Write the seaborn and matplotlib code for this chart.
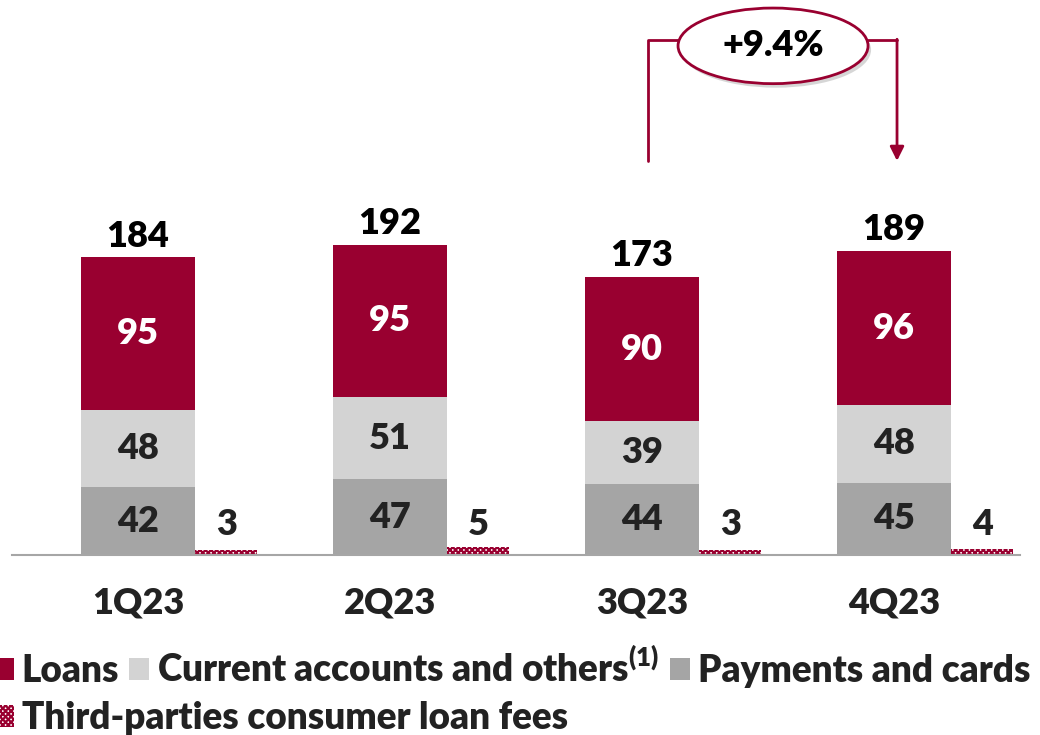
import numpy as np
import pandas as pd
import matplotlib
matplotlib.use("Agg")
import matplotlib.pyplot as plt
from matplotlib.patches import Ellipse, Patch
import seaborn as sns

# Chart values
quarters = ["1Q23", "2Q23", "3Q23", "4Q23"]
loans = [95, 95, 90, 96]
current_accounts = [48, 51, 39, 48]
payments_cards = [42, 47, 44, 45]
third_parties = [3, 5, 3, 4]
totals = [184, 192, 173, 189]
growth_label = "+9.4%"

legend_labels = ["Loans", r"Current accounts and others$^{\mathbf{(1)}}$",
                 "Payments and cards", "Third-parties consumer loan fees"]

RED = "#990030"
LIGHT = "#D3D3D3"
GREY = "#A5A5A5"
TXT = "#222222"
FS = 26
LFS = 26.6
W = "heavy"

sns.set_theme(style="white")
plt.rcParams["font.family"] = ["Lato", "DejaVu Sans"]
plt.rcParams["font.weight"] = W
plt.rcParams["mathtext.fontset"] = "custom"
plt.rcParams["mathtext.rm"] = "Lato"
plt.rcParams["mathtext.bf"] = "Lato:heavy"
plt.rcParams["hatch.linewidth"] = 1.6
plt.rcParams["hatch.color"] = RED

fig = plt.figure(figsize=(10.4, 7.35), dpi=100)
ax = fig.add_axes([12 / 1040, 1 - 555 / 735, 1008 / 1040, 555 / 735])

pos = np.arange(len(quarters), dtype=float)
df = pd.DataFrame({
    "x": pos,
    "pay": payments_cards,
    "cur": np.add(payments_cards, current_accounts),
    "tot": np.add(np.add(payments_cards, current_accounts), loans),
})
df3 = pd.DataFrame({"x": pos + 0.35, "v": third_parties})

# layered stacked bars (tallest first)
sns.barplot(data=df, x="x", y="tot", native_scale=True, color=RED, saturation=1,
            width=0.455, linewidth=0, ax=ax)
sns.barplot(data=df, x="x", y="cur", native_scale=True, color=LIGHT, saturation=1,
            width=0.455, linewidth=0, ax=ax)
sns.barplot(data=df, x="x", y="pay", native_scale=True, color=GREY, saturation=1,
            width=0.455, linewidth=0, ax=ax)
n_before = len(ax.patches)
sns.barplot(data=df3, x="x", y="v", native_scale=True, color="white", saturation=1,
            width=0.245, linewidth=0, ax=ax)
for p in ax.patches[n_before:]:
    p.set_hatch("xxxxxx")
    p.set_edgecolor(RED)
    p.set_linewidth(0)

# value labels
for i in range(len(quarters)):
    ax.text(pos[i], payments_cards[i] / 2, str(payments_cards[i]), ha="center", va="center",
            fontsize=FS, color=TXT, fontweight=W)
    ax.text(pos[i], payments_cards[i] + current_accounts[i] / 2, str(current_accounts[i]),
            ha="center", va="center", fontsize=FS, color=TXT, fontweight=W)
    ax.text(pos[i], payments_cards[i] + current_accounts[i] + loans[i] / 2, str(loans[i]),
            ha="center", va="center", fontsize=FS, color="white", fontweight=W)
    ax.text(pos[i], df["tot"][i] + 6.5, str(totals[i]), ha="center", va="baseline",
            fontsize=FS, color="black", fontweight=W)
    ax.text(pos[i] + 0.35, 12.5, str(third_parties[i]), ha="center", va="baseline",
            fontsize=FS, color=TXT, fontweight=W)

ax.set_xlim(-0.5, 3.5)
ax.set_ylim(0, 345)
ax.set_yticks([])
ax.set_xticks(pos)
ax.set_xticklabels(quarters, fontsize=FS, fontweight=W, color=TXT)
ax.set_xticks(np.arange(-0.5, 4.0, 1.0), minor=True)
ax.tick_params(axis="x", which="major", length=0, pad=23)
ax.tick_params(axis="x", which="minor", length=12, width=1.2, color="#A6A6A6", direction="out")
ax.set_xlabel("")
ax.set_ylabel("")
for s in ["top", "left", "right"]:
    ax.spines[s].set_visible(False)
ax.spines["bottom"].set_color("#A6A6A6")
ax.spines["bottom"].set_linewidth(1.5)

# growth annotation between 3Q23 and 4Q23
xl, xr = pos[2] + 0.024, pos[3] + 0.012
y_top, y_low = 320, 245
ex, ey, ew, eh = 2.52, 316.5, 0.754, 47
ax.plot([xl, xl, ex - ew / 2], [y_low, y_top, y_top], color=RED, lw=2, clip_on=False)
ax.plot([ex + ew / 2, xr], [y_top, y_top], color=RED, lw=2, clip_on=False)
ax.annotate("", xy=(xr, y_low), xytext=(xr, y_top + 0.6),
            arrowprops=dict(arrowstyle="-|>,head_length=0.7,head_width=0.35", color=RED, lw=2,
                            shrinkA=0, shrinkB=0))
ax.add_patch(Ellipse((ex + 0.012, ey - 2.5), ew, eh, facecolor="#BBBBBB", edgecolor="none",
                     alpha=0.6, clip_on=False))
ax.add_patch(Ellipse((ex, ey), ew, eh, facecolor="white", edgecolor=RED, lw=2, clip_on=False))
ax.text(ex, ey, growth_label, ha="center", va="center", fontsize=FS, color="black",
        fontweight=W)

# legend
h1 = [Patch(facecolor=RED, edgecolor="none"), Patch(facecolor=LIGHT, edgecolor="none"),
      Patch(facecolor=GREY, edgecolor="none")]
leg1 = fig.legend(h1, legend_labels[:3], loc="center left", bbox_to_anchor=(-0.006, 1 - 668 / 735),
                  ncol=3, frameon=False, fontsize=LFS, handlelength=0.54, handleheight=0.54,
                  handletextpad=0.22, columnspacing=0.27, borderaxespad=0, borderpad=0)
h2 = [Patch(facecolor="white", edgecolor=RED, hatch="xxxxxx", linewidth=0)]
leg2 = fig.legend(h2, legend_labels[3:], loc="center left", bbox_to_anchor=(-0.006, 1 - 718 / 735),
                  frameon=False, fontsize=LFS, handlelength=0.54, handleheight=0.54,
                  handletextpad=0.22, borderaxespad=0, borderpad=0)
for t in leg1.get_texts() + leg2.get_texts():
    t.set_color(TXT)
    t.set_fontweight(W)

fig.savefig("out.png", dpi=100)
